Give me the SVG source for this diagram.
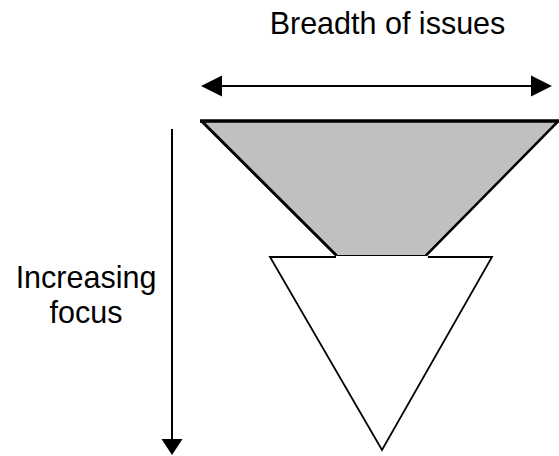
<svg xmlns="http://www.w3.org/2000/svg" width="559" height="456" viewBox="0 0 559 456">
<style>
.lbl{font-family:"Liberation Sans",Arial,sans-serif;font-size:30.5px;fill:#000;text-anchor:middle}
.ln{stroke:#000;fill:none}
</style>
<rect width="559" height="456" fill="#fff"/>
<g id="labels">
<text class="lbl" x="387.5" y="33.5">Breadth of issues</text>
<text class="lbl" x="86" y="288">Increasing</text>
<text class="lbl" x="86" y="323">focus</text>
</g>
<g id="connectors">
<line class="ln" x1="222" y1="86" x2="531" y2="86" stroke-width="2"/>
<path d="M201,86 L222,75.5 L222,96.5 Z" fill="#000"/>
<path d="M552,86 L531,75.5 L531,96.5 Z" fill="#000"/>
<line class="ln" x1="172" y1="129" x2="172" y2="440" stroke-width="2"/>
<path d="M172,455 L161.5,439 L182.5,439 Z" fill="#000"/>
</g>
<g id="triangle">
<path d="M270,257 L382,450 L492,257 Z" fill="#fff"/>
<path class="ln" d="M336,257 L270,257 L382,450 L492,257 L428,257" stroke-width="1.8" stroke-linejoin="miter"/>
</g>
<g id="funnel">
<path d="M201.5,121 L558.5,121 L426,255.5 L336.5,255.5 Z" fill="#c0c0c0"/>
<line class="ln" x1="336.5" y1="255.5" x2="426" y2="255.5" stroke-width="1"/>
<line class="ln" x1="201.5" y1="121" x2="336.5" y2="255.5" stroke-width="3"/>
<line class="ln" x1="558.5" y1="121" x2="426" y2="255.5" stroke-width="2.5"/>
<line class="ln" x1="200" y1="121" x2="559" y2="121" stroke-width="3.5"/>
</g>
</svg>
